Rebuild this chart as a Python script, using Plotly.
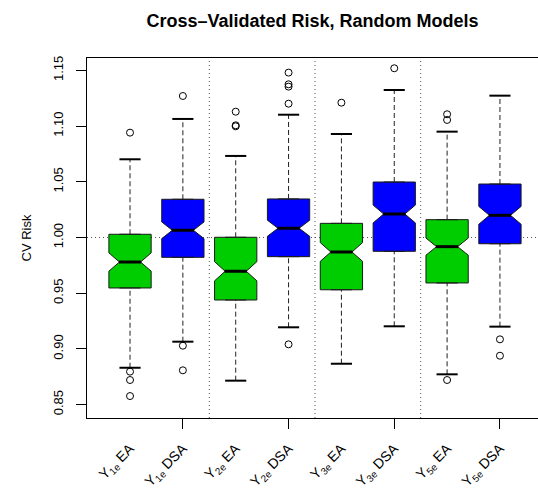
import plotly.graph_objects as go

# ---- data ----
labels = ["Y<sub>1e</sub> EA", "Y<sub>1e</sub> DSA", "Y<sub>2e</sub> EA", "Y<sub>2e</sub> DSA",
          "Y<sub>3e</sub> EA", "Y<sub>3e</sub> DSA", "Y<sub>5e</sub> EA", "Y<sub>5e</sub> DSA"]
positions = [1, 2, 3, 4, 5, 6, 7, 8]
q1 = [0.9547, 0.9822, 0.9439, 0.9828, 0.9531, 0.9876, 0.9592, 0.9944]
median = [0.9780, 1.0065, 0.9697, 1.0083, 0.9870, 1.0211, 0.9918, 1.0199]
q3 = [1.0029, 1.0343, 1.0002, 1.0346, 1.0127, 1.0498, 1.0160, 1.0480]
lower_whisker = [0.8831, 0.9065, 0.8715, 0.9194, 0.8867, 0.9203, 0.8772, 0.9200]
upper_whisker = [1.0702, 1.1064, 1.0732, 1.1102, 1.0929, 1.1324, 1.0950, 1.1273]
notch_half = [0.0082, 0.0075, 0.0086, 0.0072, 0.0084, 0.0080, 0.0077, 0.0080]
outliers = [
    [1.0941, 0.8796, 0.8721, 0.8577],
    [1.1270, 0.9029, 0.8808],
    [1.1129, 1.1007, 1.0998],
    [1.1480, 1.1375, 1.1354, 1.1201, 0.9041],
    [1.1210],
    [1.1519],
    [1.1106, 1.1055, 0.8721],
    [0.9086, 0.8939],
]
colors = ["#00CD00", "#0000FF", "#00CD00", "#0000FF", "#00CD00", "#0000FF", "#00CD00", "#0000FF"]
ytick_vals = [0.85, 0.90, 0.95, 1.00, 1.05, 1.10, 1.15]
ytick_text = ["0.85", "0.90", "0.95", "1.00", "1.05", "1.10", "1.15"]
sep_positions = [2.5, 4.5, 6.5]
xtick_marks = [2, 4, 6, 8]

FONT = "Liberation Sans, Arial, Helvetica, sans-serif"
BOX_W = 0.8
CAP_HALF = 0.2
MED_HALF = 0.21

fig = go.Figure()

# whiskers (dashed) and caps
for p, a, b, lo, hi in zip(positions, q1, q3, lower_whisker, upper_whisker):
    for y0, y1 in ((b, hi), (lo, a)):
        fig.add_trace(go.Scatter(x=[p, p], y=[y0, y1], mode="lines",
                                 line=dict(color="#222222", width=1, dash="5px,3px"),
                                 showlegend=False, hoverinfo="skip"))
    for yc in (lo, hi):
        fig.add_trace(go.Scatter(x=[p - CAP_HALF, p + CAP_HALF], y=[yc, yc], mode="lines",
                                 line=dict(color="black", width=2),
                                 showlegend=False, hoverinfo="skip"))

# notched boxes
for p, a, m, b, n, c in zip(positions, q1, median, q3, notch_half, colors):
    fig.add_trace(go.Box(x=[p], q1=[a], median=[m], q3=[b], lowerfence=[a], upperfence=[b],
                         notched=True, notchspan=[n], notchwidth=0.25, width=BOX_W,
                         fillcolor=c, line=dict(color="#1a1a1a", width=1),
                         boxpoints=False, showlegend=False, hoverinfo="skip"))

# thick medians
for p, m in zip(positions, median):
    fig.add_trace(go.Scatter(x=[p - MED_HALF, p + MED_HALF], y=[m, m], mode="lines",
                             line=dict(color="black", width=3),
                             showlegend=False, hoverinfo="skip"))

# outliers
ox, oy = [], []
for p, outs in zip(positions, outliers):
    for v in outs:
        ox.append(p)
        oy.append(v)
fig.add_trace(go.Scatter(x=ox, y=oy, mode="markers",
                         marker=dict(symbol="circle-open", size=7, color="black",
                                     line=dict(width=1)),
                         showlegend=False, hoverinfo="skip"))

# tick marks only axis
fig.add_trace(go.Scatter(x=[positions[0]], y=[None], xaxis="x2", showlegend=False,
                         hoverinfo="skip"))

shapes = [dict(type="line", xref="paper", yref="y", x0=0, x1=1, y0=1.0, y1=1.0,
               line=dict(color="#555555", width=1, dash="1px,3px"), layer="below")]
for s in sep_positions:
    shapes.append(dict(type="line", xref="x", yref="paper", x0=s, x1=s, y0=0, y1=1,
                       line=dict(color="#555555", width=1, dash="1px,3px"), layer="below"))

XR = [0.186, 8.72]
fig.update_layout(
    width=538, height=493,
    margin=dict(l=87, r=0, t=58, b=75),
    paper_bgcolor="white", plot_bgcolor="white",
    font=dict(family=FONT, color="black", size=12),
    title=dict(text="<b>Cross\u2013Validated Risk, Random Models</b>",
               x=0.5, xref="paper", xanchor="center",
               y=1 - 21 / 493, yref="container", yanchor="middle",
               font=dict(size=18, family=FONT, color="black")),
    shapes=shapes,
    xaxis=dict(range=XR, tickmode="array", tickvals=positions, ticktext=labels,
               tickangle=-45, ticks="outside", ticklen=16, tickcolor="rgba(0,0,0,0)",
               showline=True, linecolor="black", linewidth=1, mirror=True,
               showgrid=False, zeroline=False, tickfont=dict(size=14)),
    xaxis2=dict(range=XR, overlaying="x", anchor="y", side="bottom", tickmode="array",
                tickvals=xtick_marks, ticks="outside", ticklen=10, tickcolor="black",
                showticklabels=False, showline=False, showgrid=False, zeroline=False),
    yaxis=dict(range=[0.838, 1.1611], tickmode="array", tickvals=ytick_vals,
               ticktext=ytick_text, tickangle=-90, ticks="outside", ticklen=10,
               tickcolor="black", showline=True, linecolor="black", linewidth=1,
               showgrid=False, zeroline=False, tickfont=dict(size=13),
               ticklabelstandoff=8,
               title=dict(text="CV Risk", font=dict(size=13), standoff=16)),
)

fig.write_html("out.html")
